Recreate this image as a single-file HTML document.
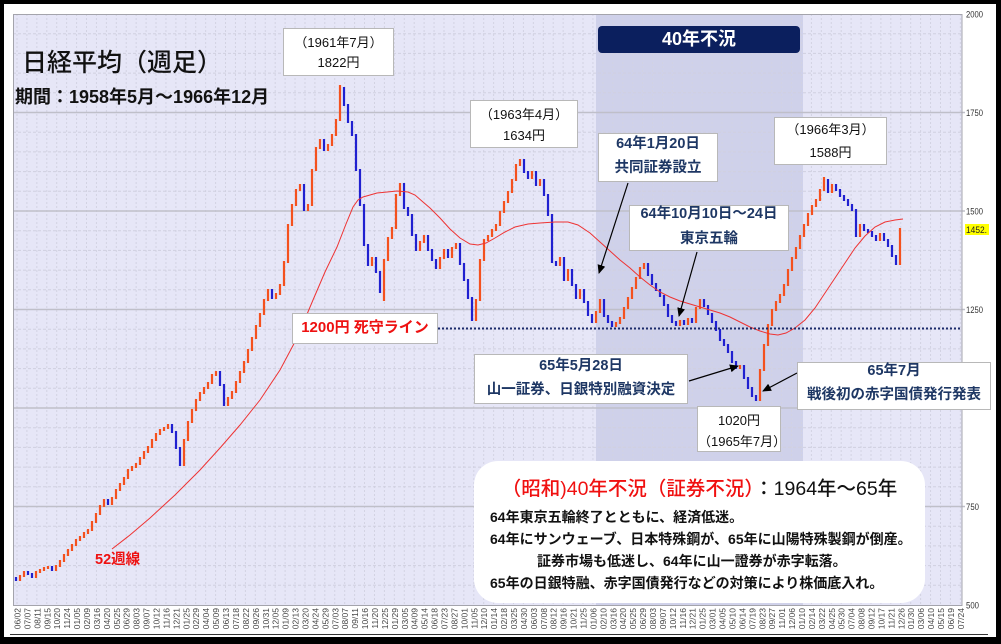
<!DOCTYPE html>
<html><head><meta charset="utf-8">
<style>
html,body{margin:0;padding:0;}
body{width:1001px;height:644px;background:#000;position:relative;overflow:hidden;font-family:"Liberation Sans","Noto Sans CJK JP",sans-serif;}
.a{position:absolute;white-space:nowrap;}
.box{position:absolute;background:#fff;border:1px solid #b8b8b8;box-sizing:border-box;}
.t{position:absolute;left:0;right:0;text-align:center;white-space:nowrap;}
.k{color:#111;font-size:13px;line-height:18px;}
.n{color:#1e3764;font-size:14.5px;font-weight:bold;line-height:20px;}
.b{color:#111;font-size:14px;font-weight:bold;line-height:20px;}
</style></head><body>
<svg width="1001" height="644" style="position:absolute;left:0;top:0" xmlns="http://www.w3.org/2000/svg">
<defs>
<pattern id="vg" patternUnits="userSpaceOnUse" x="16.5" y="14" width="9.93" height="4"><rect width="1" height="2" fill="#d2d2e2"/></pattern>
<marker id="ah" markerWidth="9" markerHeight="8" refX="8" refY="4" orient="auto" markerUnits="userSpaceOnUse"><path d="M0,0 L9,4 L0,8 z" fill="#000"/></marker>
</defs>
<rect x="4" y="4" width="992" height="633" fill="#fff"/>
<rect x="13" y="14" width="949" height="592" fill="#e6e6f7"/>
<rect x="596" y="14" width="207" height="592" fill="#cfd1ea"/>
<rect x="13" y="14" width="949" height="592" fill="url(#vg)"/>
<path d="M13 33.7H962M13 53.4H962M13 73.1H962M13 92.8H962M13 132.2H962M13 151.9H962M13 171.6H962M13 191.3H962M13 230.7H962M13 250.4H962M13 270.1H962M13 289.8H962M13 329.2H962M13 348.9H962M13 368.6H962M13 388.3H962M13 427.7H962M13 447.4H962M13 467.1H962M13 486.8H962M13 526.2H962M13 545.9H962M13 565.6H962M13 585.3H962" stroke="#d0d0e0" stroke-width="1" stroke-dasharray="3 2" fill="none"/>
<path d="M13 112.5H965M13 211H965M13 309.5H965M13 408H965M13 506.5H965" stroke="#bfbfc9" stroke-width="1.5" fill="none"/>
<rect x="13.5" y="14.5" width="948.5" height="591" fill="none" stroke="#a4a4ac" stroke-width="1"/>
<line x1="10" y1="634.5" x2="988" y2="634.5" stroke="#333" stroke-width="1"/>

<!-- candles -->
<path fill="none" stroke="#f4511e" stroke-width="2.2" d="M20 575V581M24 571V577M36 571V578M40 569V573M44 567V571M48 566V569M56 565V571M60 560V567M64 554V562M68 549V556M72 544V551M76 539V546M80 536V541M84 532V538M88 529V534M92 521V531M96 513V523M100 505V515M104 499V507M112 497V505M116 489V499M120 483V491M124 477V485M128 469V479M132 466V471M136 463V468M140 457V465M144 451V459M148 446V453M152 439V448M156 433V441M160 429V435M164 427V431M168 424V429M184 439V466M188 421V441M192 409V423M196 399V411M200 392V401M204 387V394M208 382V389M212 374V384M216 371V376M228 397V406M232 391V399M236 381V393M240 371V383M244 361V373M248 349V363M252 337V351M256 325V339M260 313V327M264 299V315M268 289V301M276 293V299M280 284V295M284 261V286M288 224V263M292 204V226M296 189V206M300 184V191M308 204V211M312 169V206M316 147V171M320 139V149M328 144V151M332 134V146M336 119V136M340 85V121M372 257V266M384 259V301M388 237V261M392 227V239M396 194V229M400 183V196M420 241V251M424 235V243M440 257V269M444 249V259M452 247V258M456 243V249M476 299V321M480 259V301M484 239V261M488 235V241M492 229V237M496 224V231M500 211V226M504 201V213M508 191V203M512 179V193M516 164V181M520 159V166M532 171V179M540 179V186M560 257V266M568 269V281M580 289V299M596 311V323M600 299V313M616 322V327M620 317V324M624 307V319M628 297V309M632 287V299M636 277V289M640 267V279M644 263V269M680 320V326M688 318V325M696 307V323M700 299V309M740 365V369M760 369V401M764 344V371M768 324V346M772 309V326M776 301V311M780 294V303M784 284V296M788 269V286M792 257V271M796 247V259M800 235V249M804 224V237M808 213V226M812 205V215M816 199V207M820 189V201M824 177V191M832 184V193M860 224V237M880 233V241M900 228V265"/>
<path fill="none" stroke="#2020d0" stroke-width="2.2" d="M16 577V581M28 571V575M32 573V578M52 566V571M108 499V505M172 424V433M176 431V449M180 447V466M220 371V386M224 384V406M272 289V299M304 184V211M324 139V151M344 87V106M348 104V123M352 121V136M356 134V171M360 169V206M364 204V246M368 244V266M376 257V273M380 271V293M404 183V209M408 207V216M412 214V236M416 234V251M428 235V251M432 249V261M436 259V269M448 249V258M460 243V265M464 263V281M468 279V299M472 297V321M524 159V173M528 171V179M536 171V186M544 179V196M548 194V216M552 214V263M556 261V266M564 257V281M572 269V286M576 284V299M584 289V303M588 301V316M592 314V323M604 299V317M608 315V323M612 321V327M648 263V276M652 274V285M656 283V291M660 289V297M664 295V306M668 304V317M672 315V323M676 321V326M684 320V325M692 318V323M704 299V307M708 305V315M712 313V323M716 321V331M720 329V341M724 339V346M728 344V353M732 351V363M736 361V369M744 365V379M748 377V389M752 387V397M756 395V401M828 179V193M836 184V191M840 189V197M844 195V201M848 199V206M852 204V211M856 209V237M864 224V231M868 229V233M872 231V237M876 235V241M884 233V241M888 239V247M892 245V257M896 255V265"/>

<!-- 52 week MA -->
<polyline fill="none" stroke="#ee3333" stroke-width="1" points="112,549 130,535 150,518 175,495 200,470 220,448 240,425 260,400 280,370 297,338 313,300 325,272 337,247 346,224 353,207 358,200 363,197 377,193 397,191 408,192 415,195 423,202 430,208 440,218 450,229 460,238 470,244 478,245 486,243 495,238 505,232 515,227 528,224 540,223 555,222 568,222 578,225 590,233 600,242 610,251 620,260 630,268 640,277 650,285 660,292 670,297 680,301 690,304 700,307 710,310 720,313 730,317 740,322 750,327 760,331 770,334 778,335 786,333 795,328 805,320 815,308 825,293 835,278 845,263 855,248 865,236 875,227 885,222 895,220 903,219"/>

<!-- 1200 line -->
<path d="M438 328.5H962" stroke="#1c2b6b" stroke-width="2" stroke-dasharray="2 2" fill="none"/>

<!-- arrows -->
<g stroke="#000" stroke-width="1.2" fill="none">
<line x1="628" y1="183" x2="599" y2="273" marker-end="url(#ah)"/>
<line x1="697" y1="252" x2="679" y2="316" marker-end="url(#ah)"/>
<line x1="689" y1="381" x2="738" y2="366" marker-end="url(#ah)"/>
<line x1="797" y1="373" x2="763" y2="391" marker-end="url(#ah)"/>
</g>

<!-- right axis -->
<g font-family="Liberation Sans, sans-serif" font-size="9.5" fill="#333">
<text x="966" y="17.5" textLength="17" lengthAdjust="spacingAndGlyphs">2000</text>
<text x="966" y="116" textLength="17" lengthAdjust="spacingAndGlyphs">1750</text>
<text x="966" y="214.5" textLength="17" lengthAdjust="spacingAndGlyphs">1500</text>
<text x="966" y="313" textLength="17" lengthAdjust="spacingAndGlyphs">1250</text>
<text x="966" y="510" textLength="13" lengthAdjust="spacingAndGlyphs">750</text>
<text x="966" y="608.5" textLength="13" lengthAdjust="spacingAndGlyphs">500</text>
</g>
<rect x="965" y="224" width="24" height="11" fill="#ffff00"/>
<text x="966" y="233" font-family="Liberation Sans, sans-serif" font-size="9.5" fill="#222" textLength="21" lengthAdjust="spacingAndGlyphs">1452.</text>

<!-- x axis labels -->
<g font-family="Liberation Sans, sans-serif" font-size="8.5" fill="#444" text-anchor="end">
<text transform="translate(20.5 608)rotate(-90)">06/02</text>
<text transform="translate(30.4 608)rotate(-90)">07/07</text>
<text transform="translate(40.4 608)rotate(-90)">08/11</text>
<text transform="translate(50.3 608)rotate(-90)">09/15</text>
<text transform="translate(60.2 608)rotate(-90)">10/20</text>
<text transform="translate(70.2 608)rotate(-90)">11/24</text>
<text transform="translate(80.1 608)rotate(-90)">01/05</text>
<text transform="translate(90 608)rotate(-90)">02/09</text>
<text transform="translate(99.9 608)rotate(-90)">03/16</text>
<text transform="translate(109.9 608)rotate(-90)">04/20</text>
<text transform="translate(119.8 608)rotate(-90)">05/25</text>
<text transform="translate(129.7 608)rotate(-90)">06/29</text>
<text transform="translate(139.7 608)rotate(-90)">08/03</text>
<text transform="translate(149.6 608)rotate(-90)">09/07</text>
<text transform="translate(159.5 608)rotate(-90)">10/12</text>
<text transform="translate(169.5 608)rotate(-90)">11/16</text>
<text transform="translate(179.4 608)rotate(-90)">12/21</text>
<text transform="translate(189.3 608)rotate(-90)">01/25</text>
<text transform="translate(199.2 608)rotate(-90)">02/29</text>
<text transform="translate(209.2 608)rotate(-90)">04/04</text>
<text transform="translate(219.1 608)rotate(-90)">05/09</text>
<text transform="translate(229 608)rotate(-90)">06/13</text>
<text transform="translate(239 608)rotate(-90)">07/18</text>
<text transform="translate(248.9 608)rotate(-90)">08/22</text>
<text transform="translate(258.8 608)rotate(-90)">09/26</text>
<text transform="translate(268.8 608)rotate(-90)">10/31</text>
<text transform="translate(278.7 608)rotate(-90)">12/05</text>
<text transform="translate(288.6 608)rotate(-90)">01/09</text>
<text transform="translate(298.5 608)rotate(-90)">02/13</text>
<text transform="translate(308.5 608)rotate(-90)">03/20</text>
<text transform="translate(318.4 608)rotate(-90)">04/24</text>
<text transform="translate(328.3 608)rotate(-90)">05/29</text>
<text transform="translate(338.3 608)rotate(-90)">07/03</text>
<text transform="translate(348.2 608)rotate(-90)">08/07</text>
<text transform="translate(358.1 608)rotate(-90)">09/11</text>
<text transform="translate(368.1 608)rotate(-90)">10/16</text>
<text transform="translate(378 608)rotate(-90)">11/20</text>
<text transform="translate(387.9 608)rotate(-90)">12/25</text>
<text transform="translate(397.8 608)rotate(-90)">01/29</text>
<text transform="translate(407.8 608)rotate(-90)">03/05</text>
<text transform="translate(417.7 608)rotate(-90)">04/09</text>
<text transform="translate(427.6 608)rotate(-90)">05/14</text>
<text transform="translate(437.6 608)rotate(-90)">06/18</text>
<text transform="translate(447.5 608)rotate(-90)">07/23</text>
<text transform="translate(457.4 608)rotate(-90)">08/27</text>
<text transform="translate(467.4 608)rotate(-90)">10/01</text>
<text transform="translate(477.3 608)rotate(-90)">11/05</text>
<text transform="translate(487.2 608)rotate(-90)">12/10</text>
<text transform="translate(497.1 608)rotate(-90)">01/14</text>
<text transform="translate(507.1 608)rotate(-90)">02/18</text>
<text transform="translate(517 608)rotate(-90)">03/25</text>
<text transform="translate(526.9 608)rotate(-90)">04/30</text>
<text transform="translate(536.9 608)rotate(-90)">06/03</text>
<text transform="translate(546.8 608)rotate(-90)">07/08</text>
<text transform="translate(556.7 608)rotate(-90)">08/12</text>
<text transform="translate(566.7 608)rotate(-90)">09/16</text>
<text transform="translate(576.6 608)rotate(-90)">10/21</text>
<text transform="translate(586.5 608)rotate(-90)">11/25</text>
<text transform="translate(596.4 608)rotate(-90)">01/06</text>
<text transform="translate(606.4 608)rotate(-90)">02/10</text>
<text transform="translate(616.3 608)rotate(-90)">03/16</text>
<text transform="translate(626.2 608)rotate(-90)">04/20</text>
<text transform="translate(636.2 608)rotate(-90)">05/25</text>
<text transform="translate(646.1 608)rotate(-90)">06/29</text>
<text transform="translate(656 608)rotate(-90)">08/03</text>
<text transform="translate(666 608)rotate(-90)">09/07</text>
<text transform="translate(675.9 608)rotate(-90)">10/12</text>
<text transform="translate(685.8 608)rotate(-90)">11/16</text>
<text transform="translate(695.7 608)rotate(-90)">12/21</text>
<text transform="translate(705.7 608)rotate(-90)">01/25</text>
<text transform="translate(715.6 608)rotate(-90)">03/01</text>
<text transform="translate(725.5 608)rotate(-90)">04/05</text>
<text transform="translate(735.5 608)rotate(-90)">05/10</text>
<text transform="translate(745.4 608)rotate(-90)">06/14</text>
<text transform="translate(755.3 608)rotate(-90)">07/19</text>
<text transform="translate(765.3 608)rotate(-90)">08/23</text>
<text transform="translate(775.2 608)rotate(-90)">09/27</text>
<text transform="translate(785.1 608)rotate(-90)">11/01</text>
<text transform="translate(795 608)rotate(-90)">12/06</text>
<text transform="translate(805 608)rotate(-90)">01/10</text>
<text transform="translate(814.9 608)rotate(-90)">02/14</text>
<text transform="translate(824.8 608)rotate(-90)">03/22</text>
<text transform="translate(834.8 608)rotate(-90)">04/25</text>
<text transform="translate(844.7 608)rotate(-90)">05/30</text>
<text transform="translate(854.6 608)rotate(-90)">07/04</text>
<text transform="translate(864.6 608)rotate(-90)">08/08</text>
<text transform="translate(874.5 608)rotate(-90)">09/12</text>
<text transform="translate(884.4 608)rotate(-90)">10/17</text>
<text transform="translate(894.3 608)rotate(-90)">11/21</text>
<text transform="translate(904.3 608)rotate(-90)">12/26</text>
<text transform="translate(914.2 608)rotate(-90)">01/30</text>
<text transform="translate(924.1 608)rotate(-90)">03/06</text>
<text transform="translate(934.1 608)rotate(-90)">04/10</text>
<text transform="translate(944 608)rotate(-90)">05/15</text>
<text transform="translate(953.9 608)rotate(-90)">06/19</text>
<text transform="translate(963.9 608)rotate(-90)">07/24</text>
</g>
</svg>

<!-- titles -->
<div class="a" style="left:22px;top:47px;font-size:25px;line-height:32px;font-weight:500;color:#111;">日経平均（週足）</div>
<div class="a" style="left:15px;top:86px;font-size:18px;line-height:22px;font-weight:bold;color:#111;">期間：1958年5月～1966年12月</div>

<!-- box A -->
<div class="box" style="left:283px;top:28px;width:111px;height:48px;">
<div class="t k" style="top:5px;">（1961年7月）</div>
<div class="t k" style="top:25px;">1822円</div>
</div>
<!-- box B -->
<div class="box" style="left:470px;top:100px;width:108px;height:48px;">
<div class="t k" style="top:5px;">（1963年4月）</div>
<div class="t k" style="top:26px;">1634円</div>
</div>
<!-- box C -->
<div class="box" style="left:774px;top:117px;width:113px;height:48px;">
<div class="t k" style="top:3px;">（1966年3月）</div>
<div class="t k" style="top:26px;">1588円</div>
</div>
<!-- 40年不況 -->
<div class="a" style="left:598px;top:26px;width:202px;height:27px;background:#0b1f5e;border-radius:4px;color:#fff;font-weight:bold;font-size:18px;line-height:27px;text-align:center;">40年不況</div>
<!-- box E -->
<div class="box" style="left:598px;top:133px;width:120px;height:49px;">
<div class="t n" style="top:0px;">64年1月20日</div>
<div class="t n" style="top:24px;">共同証券設立</div>
</div>
<!-- box F -->
<div class="box" style="left:629px;top:205px;width:160px;height:46px;">
<div class="t n" style="top:-2px;">64年10月10日～24日</div>
<div class="t n" style="top:23px;">東京五輪</div>
</div>
<!-- box G -->
<div class="box" style="left:292px;top:313px;width:146px;height:31px;">
<div class="t" style="top:4px;line-height:20px;font-size:15px;font-weight:bold;color:#ee1111;">1200円 死守ライン</div>
</div>
<!-- box H -->
<div class="box" style="left:474px;top:354px;width:214px;height:50px;">
<div class="t n" style="top:1px;">65年5月28日</div>
<div class="t n" style="top:25px;">山一証券、日銀特別融資決定</div>
</div>
<!-- box I -->
<div class="box" style="left:797px;top:362px;width:194px;height:48px;">
<div class="t n" style="top:-2px;">65年7月</div>
<div class="t n" style="top:22px;">戦後初の赤字国債発行発表</div>
</div>
<!-- box J -->
<div class="box" style="left:697px;top:406px;width:84px;height:46px;">
<div class="t k" style="top:5px;">1020円</div>
<div class="t k" style="top:26px;">（1965年7月）</div>
</div>

<!-- 52週線 -->
<div class="a" style="left:95px;top:550px;font-size:14.5px;line-height:20px;font-weight:bold;color:#ee1111;">52週線</div>

<!-- big box -->
<div class="a" style="left:474px;top:461px;width:451px;height:142px;background:#fff;border-radius:24px;"></div>
<div class="a" style="left:474px;top:475px;width:451px;text-align:center;font-size:19.5px;line-height:28px;font-weight:500;"><span style="color:#f01010;">（昭和)40年不況（証券不況）</span><span style="color:#111;">：1964年～65年</span></div>
<div class="a b" style="left:490px;top:507px;">64年東京五輪終了とともに、経済低迷。</div>
<div class="a b" style="left:490px;top:529px;">64年にサンウェーブ、日本特殊鋼が、65年に山陽特殊製鋼が倒産。</div>
<div class="a b" style="left:537px;top:551px;">証券市場も低迷し、64年に山一證券が赤字転落。</div>
<div class="a b" style="left:490px;top:573px;">65年の日銀特融、赤字国債発行などの対策により株価底入れ。</div>
</body></html>
